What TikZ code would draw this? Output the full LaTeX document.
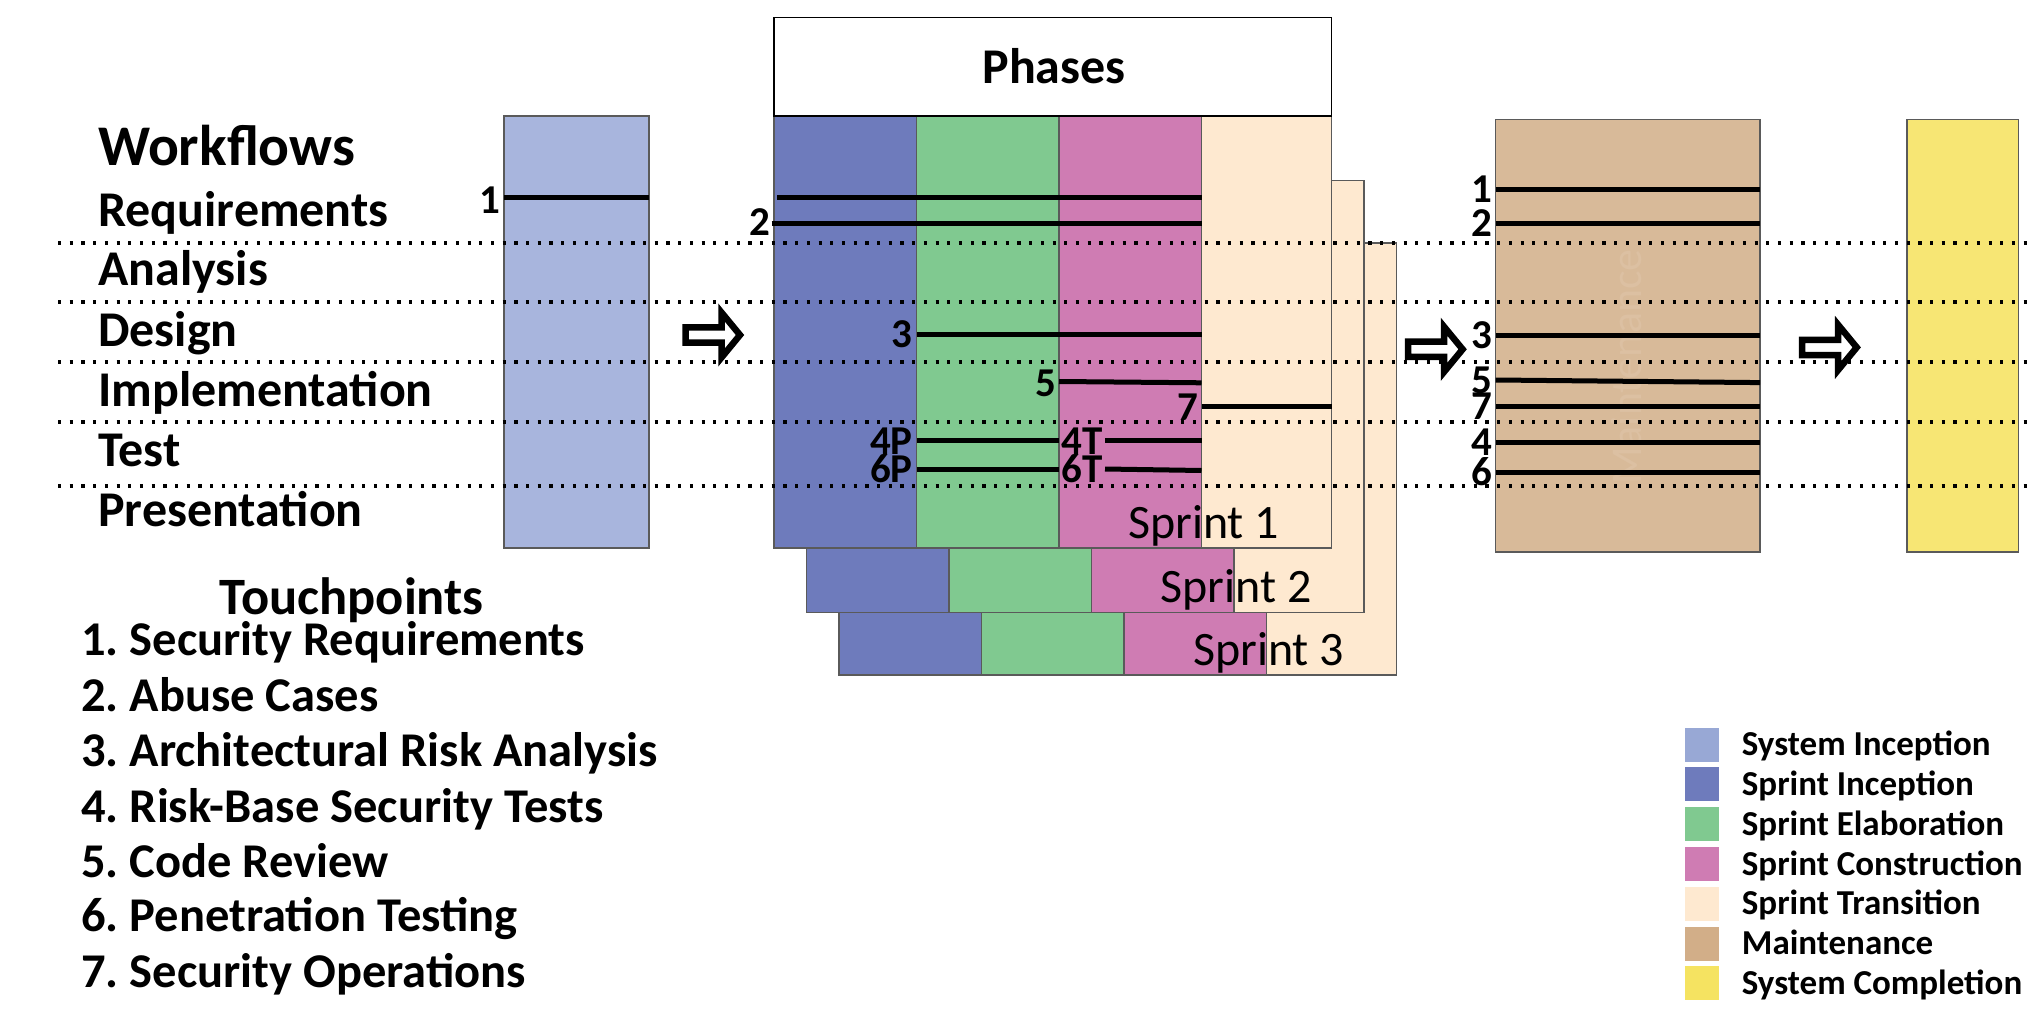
\documentclass[tikz,border=0pt]{standalone}
\usepackage{fontspec}
\setmainfont{Carlito}
\frenchspacing
\definecolor{sysinc}{HTML}{A8B5DD}
\definecolor{sysinclg}{HTML}{98A8D5}
\definecolor{sprinc}{HTML}{6E7BBC}
\definecolor{elab}{HTML}{80C990}
\definecolor{constr}{HTML}{CF7CB3}
\definecolor{trans}{HTML}{FEE9D0}
\definecolor{maint}{HTML}{D8BA99}
\definecolor{maintlg}{HTML}{D2AE88}
\definecolor{maintwm}{HTML}{DCC0A2}
\definecolor{compl}{HTML}{F7E674}
\definecolor{compllg}{HTML}{F5E361}
\definecolor{bordergray}{HTML}{5A5A5A}
\newcommand\drawsprint[2]{%
  \begin{scope}[shift={(#1,#2)}]
    \filldraw[colbox, fill=sprinc] (774,116) rectangle (916.7,548);
    \filldraw[colbox, fill=elab] (916.7,116) rectangle (1059,548);
    \filldraw[colbox, fill=constr] (1059,116) rectangle (1201.5,548);
    \filldraw[colbox, fill=trans] (1201.5,116) rectangle (1331.5,548);
  \end{scope}}
\begin{document}
\begin{tikzpicture}[x=1pt,y=-1pt,
  colbox/.style={draw=bordergray, line width=1.5},
  tpline/.style={line width=5, black},
  dotline/.style={line width=3.2, dash pattern=on 3.2 off 8.5, black},
  wflabel/.style={anchor=base west, inner sep=0, font=\fontsize{50}{50}\selectfont\bfseries},
  tplabel/.style={anchor=base west, inner sep=0, font=\fontsize{48.5}{48.5}\selectfont\bfseries},
  numlabel/.style={anchor=base east, inner sep=0, font=\fontsize{41}{41}\selectfont\bfseries},
  numlabelw/.style={anchor=base west, inner sep=0, font=\fontsize{41}{41}\selectfont\bfseries},
  sprintlabel/.style={anchor=base west, inner sep=0, font=\fontsize{48}{48}\selectfont},
  lgtext/.style={anchor=base west, inner sep=0, font=\fontsize{35}{35}\selectfont\bfseries},
  lgbox/.style={draw=white, line width=1},
  blockarrow/.pic={\draw[line width=6.5, fill=white, line join=miter, miter limit=10]
     (3.5,-7.6) -- (39.5,-7.6) -- (39.5,-22.5) -- (58,0) -- (39.5,22.5) -- (39.5,7.6) -- (3.5,7.6) -- cycle;}
]
\useasboundingbox (0,0) rectangle (2035,1024);
\fill[white] (0,0) rectangle (2035,1024);

% System inception
\filldraw[colbox, fill=sysinc] (504,116) rectangle (649,548);
\draw[tpline] (504,197.5) -- (649,197.5);
\node[numlabel] (l1a) at (500,214) {1};

% Sprints
\drawsprint{65}{127}
\drawsprint{32.5}{64.5}
\drawsprint{0}{0}
\filldraw[draw=black, line width=1.5, fill=white] (774,17.5) rectangle (1331.5,116);
\node[font=\fontsize{50}{50}\selectfont\bfseries, inner sep=0] (phases) at (1054,66) {Phases};

\node[sprintlabel] (s1) at (1128,538) {Sprint 1};
\node[sprintlabel] (s2) at (1160.5,602.5) {Sprint 2};
\node[sprintlabel] (s3) at (1193,665) {Sprint 3};

% Sprint 1 touchpoints
\draw[tpline] (777,197.8) -- (1201.5,197.8);
\draw[tpline] (771.5,224) -- (1201.5,224);
\node[numlabel] (l2) at (770,236) {2};
\draw[tpline] (916.7,335) -- (1201.5,335);
\node[numlabel] (l3) at (912,348) {3};
\draw[tpline] (1059,381.5) -- (1201.5,382.8);
\node[numlabel] (l5) at (1056,396) {5};
\draw[tpline] (1201.5,406) -- (1331.5,406);
\node[numlabel] (l7) at (1198,420) {7};
\draw[tpline] (916.7,440.5) -- (1059,440.5);
\node[numlabel] (l4p) at (913,454) {4P};
\draw[tpline] (916.7,469.8) -- (1059,469.8);
\node[numlabel] (l6p) at (913,482.7) {6P};
\draw[tpline] (1105,440.5) -- (1201.5,440.5);
\node[numlabelw] (l4t) at (1061.7,454) {4T};
\draw[tpline] (1105,469) -- (1201.5,470.5);
\node[numlabelw] (l6t) at (1061.7,482.7) {6T};

% Maintenance
\filldraw[colbox, fill=maint] (1495.7,119.6) rectangle (1760,552);
\node[rotate=90, text=maintwm, font=\fontsize{44}{44}\selectfont, inner sep=0] (mwm) at (1627,367) {Maintenance};
\foreach \yy/\lab/\nm in {190/1/m1, 224/2/m2, 335.7/3/m3, 406/7/m7, 442.9/4/m4, 472.3/6/m6}{
  \draw[tpline] (1495.7,\yy) -- (1760,\yy);
  \node[numlabel] (\nm) at (1492,\yy+13) {\lab};
}
\draw[tpline] (1495.7,380) -- (1760,382.6);
\node[numlabel] (m5) at (1492,393.5) {5};

% System completion
\filldraw[colbox, fill=compl] (1907,119.6) rectangle (2018.5,552);

% Arrows
\pic at (682,335) {blockarrow};
\pic at (1404.6,349.3) {blockarrow};
\pic at (1798.7,347.4) {blockarrow};

% Dotted workflow separators
\foreach \yy in {243,302,362,422,486}{
  \draw[dotline] (58,\yy) -- (2035,\yy);
}

% Workflows
\node[anchor=base west, inner sep=0, font=\fontsize{57.5}{57.5}\selectfont\bfseries] (wf) at (98,166) {Workflows};
\node[wflabel] (wreq) at (98,227) {Requirements};
\node[wflabel] (wana) at (98,286) {Analysis};
\node[wflabel] (wdes) at (98,346) {Design};
\node[wflabel] (wimp) at (98,406) {Implementation};
\node[wflabel] (wtes) at (98,466) {Test};
\node[wflabel] (wpre) at (98,526) {Presentation};

% Touchpoints
\node[anchor=base, inner sep=0, font=\fontsize{52.5}{52.5}\selectfont\bfseries] (tph) at (351.6,614) {Touchpoints};
\node[tplabel] (t1) at (81,655) {1. Security Requirements};
\node[tplabel] (t2) at (81,711) {2. Abuse Cases};
\node[tplabel] (t3) at (81,766) {3. Architectural Risk Analysis};
\node[tplabel] (t4) at (81,822) {4. Risk-Base Security Tests};
\node[tplabel] (t5) at (81,877) {5. Code Review};
\node[tplabel] (t6) at (81,931) {6. Penetration Testing};
\node[tplabel] (t7) at (81,987) {7. Security Operations};

% Legend
\foreach \k/\col/\txt in {0/sysinclg/System Inception, 1/sprinc/Sprint Inception, 2/elab/Sprint Elaboration, 3/constr/Sprint Construction, 4/trans/Sprint Transition, 5/maintlg/Maintenance, 6/compllg/System Completion}{
  \filldraw[lgbox, fill=\col] (1684,727+39.8*\k) rectangle (1719,762+39.8*\k);
  \node[lgtext] (lg\k) at (1741.7,755.7+39.8*\k) {\txt};
}
\end{tikzpicture}
\end{document}
